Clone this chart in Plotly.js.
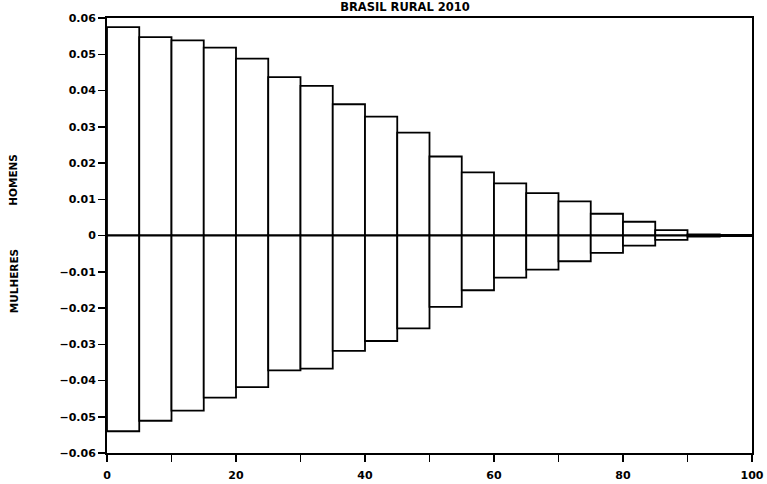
<!DOCTYPE html>
<html>
<head>
<meta charset="utf-8">
<script src="https://cdn.plot.ly/plotly-3.0.1.min.js"></script>
<style>html,body{margin:0;padding:0;background:#fff;}#chart{width:767px;height:484px;}</style>
</head>
<body>
<div id="chart"></div>
<script>
// Age group starts (5-year groups)
const ageStart = [0,5,10,15,20,25,30,35,40,45,50,55,60,65,70,75,80,85,90,95];
// Proportion of men (positive)
const homens = [0.0575,0.0547,0.0538,0.0518,0.0488,0.0437,0.0413,0.0362,0.0328,0.0284,0.0218,0.0174,0.0144,0.0117,0.0094,0.0060,0.0038,0.0015,0.0003,0.0001];
// Proportion of women (negative)
const mulheres = [-0.0540,-0.0511,-0.0483,-0.0447,-0.0418,-0.0372,-0.0367,-0.0318,-0.0291,-0.0256,-0.0197,-0.0151,-0.0116,-0.0094,-0.0071,-0.0048,-0.0028,-0.0012,-0.0003,-0.0001];
const yTicks = [-0.06,-0.05,-0.04,-0.03,-0.02,-0.01,0,0.01,0.02,0.03,0.04,0.05,0.06];
const yTickText = ["−0.06","−0.05","−0.04","−0.03","−0.02","−0.01","0","0.01","0.02","0.03","0.04","0.05","0.06"];
const xTicks = [0,10,20,30,40,50,60,70,80,90,100];
const xTickText = ["0","","20","","40","","60","","80","","100"];

const FAM = "DejaVu Sans, Verdana, sans-serif";
const font = {family: FAM, size: 11, color: "#000", weight: "bold"};
const titleFont = {family: FAM, size: 11.5, color: "#000", weight: "bold"};
const sideFont = {family: FAM, size: 10.5, color: "#000", weight: "bold"};

const barStyle = {color: "#fff", line: {color: "#000", width: 1.8}};
const traces = [
  {type: "bar", x: ageStart, y: homens, width: 5, offset: 0, marker: barStyle, hoverinfo: "skip", name: "HOMENS"},
  {type: "bar", x: ageStart, y: mulheres, width: 5, offset: 0, marker: barStyle, hoverinfo: "skip", name: "MULHERES"}
];

const layout = {
  width: 767, height: 484,
  margin: {l: 107, r: 15, t: 18, b: 31, pad: 0},
  paper_bgcolor: "#fff", plot_bgcolor: "#fff",
  showlegend: false,
  barmode: "overlay",
  font: font,
  title: {text: "BRASIL RURAL 2010", x: 405/767, xanchor: "center", xref: "container",
          y: 1 - 7/484, yanchor: "middle", yref: "container", font: titleFont},
  xaxis: {
    range: [0, 100], tickmode: "array", tickvals: xTicks, ticktext: xTickText,
    ticks: "outside", ticklen: 7, tickwidth: 1.5, tickcolor: "#000", ticklabelstandoff: 4,
    showgrid: false, zeroline: false, showline: true, linecolor: "#000", linewidth: 2, mirror: true,
    tickfont: font, fixedrange: true
  },
  yaxis: {
    range: [-0.06, 0.06], tickmode: "array", tickvals: yTicks, ticktext: yTickText,
    ticks: "outside", ticklen: 7, tickwidth: 1.5, tickcolor: "#000",
    showgrid: false, zeroline: true, zerolinecolor: "#000", zerolinewidth: 2.5,
    showline: true, linecolor: "#000", linewidth: 2, mirror: true,
    tickfont: font, fixedrange: true
  },
  annotations: [
    {text: "HOMENS", xref: "paper", yref: "y", x: -0.145, y: 0.0155, textangle: -90, showarrow: false,
     xanchor: "center", yanchor: "middle", font: sideFont},
    {text: "MULHERES", xref: "paper", yref: "y", x: -0.145, y: -0.0125, textangle: -90, showarrow: false,
     xanchor: "center", yanchor: "middle", font: sideFont}
  ]
};

Plotly.newPlot("chart", traces, layout, {displayModeBar: false, staticPlot: true});
</script>
</body>
</html>
